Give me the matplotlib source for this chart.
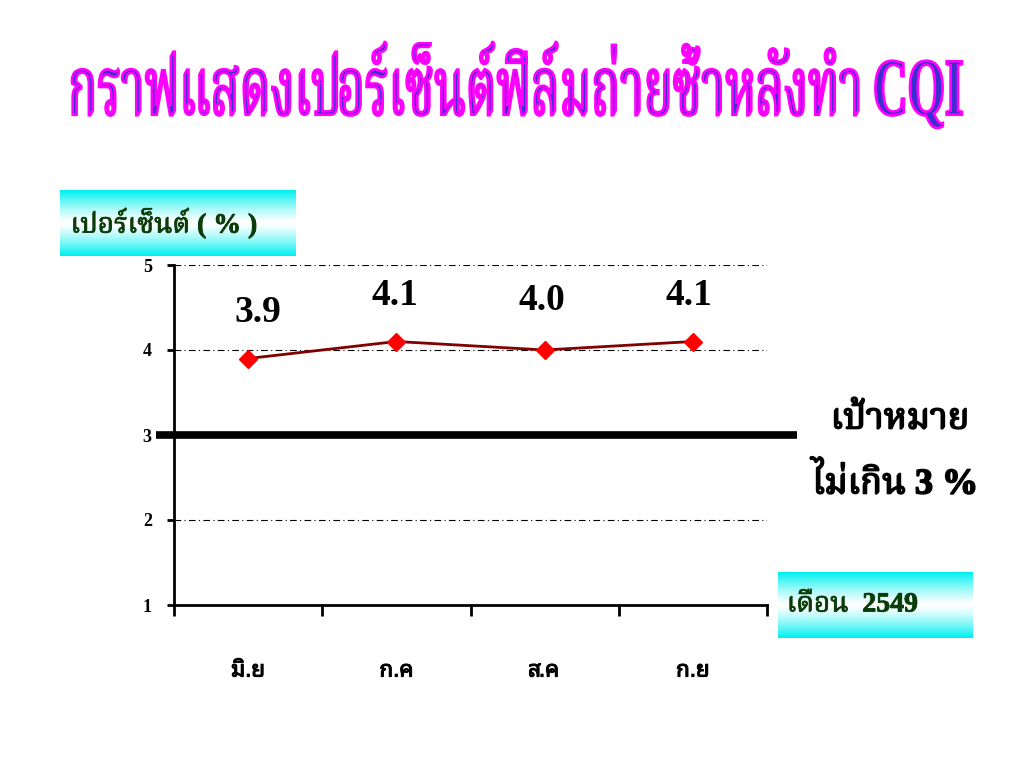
import matplotlib
matplotlib.use("Agg")
import numpy as np
import matplotlib.pyplot as plt
import matplotlib.patheffects as pe
from matplotlib.textpath import TextPath
from matplotlib.patches import PathPatch
from matplotlib.font_manager import FontProperties
from matplotlib.transforms import Affine2D

# data
months = ["มิ.ย", "ก.ค", "ส.ค", "ก.ย"]
percent = [3.9, 4.1, 4.0, 4.1]
value_labels = ["3.9", "4.1", "4.0", "4.1"]
target = 3
y_ticks = [1, 2, 3, 4, 5]
grid_levels = [2, 3, 4, 5]

title = "กราฟแสดงเปอร์เซ็นต์ฟิล์มถ่ายซ้ำหลังทำ CQI"
y_title = "เปอร์เซ็นต์ ( % )"
x_title = "เดือน  2549"
goal_1 = "เป้าหมาย"
goal_2 = "ไม่เกิน 3 %"

SERIF = ['Liberation Serif', 'Noto Serif Thai']
SANS = ['Liberation Sans', 'Noto Sans Thai Looped']

W, H = 1024, 768
fig = plt.figure(figsize=(W / 100, H / 100), dpi=100)


def fx(px):
    return px / W


def fy(py):
    return 1 - py / H


def fat(color, lw=1.0):
    # the Thai serif has no bold file, so thicken it with a stroke
    return [pe.withStroke(linewidth=lw, foreground=color)]


def fit_text(s, x0, y0, x1, y1, fp, face, edge=None, lw=0):
    # squeeze a text path into a pixel box (the slide font is narrow)
    path = TextPath((0, 0), s, size=50, prop=fp)
    bb = path.get_extents()
    sx = (fx(x1) - fx(x0)) / bb.width
    sy = (fy(y0) - fy(y1)) / bb.height
    tr = Affine2D().translate(-bb.x0, -bb.y0).scale(sx, sy).translate(fx(x0), fy(y1))
    patch = PathPatch(path, facecolor=face, edgecolor=edge if edge else face,
                      linewidth=lw, transform=tr + fig.transFigure)
    fig.add_artist(patch)
    return patch


# title
fit_text(title, 72, 42, 962, 128, FontProperties(family=SERIF, weight='bold'),
         '#3b2fd0', '#ff00ff', 1.9)

# cyan gradient boxes
grad = np.linspace(-1, 1, 64)
grad = np.abs(grad)[:, None] ** 1.3
cmap = matplotlib.colors.LinearSegmentedColormap.from_list("cy", ["#ffffff", "#00f0f0"])


def label_box(x0, y0, x1, y1, s, size):
    bax = fig.add_axes([fx(x0), fy(y1), fx(x1) - fx(x0), fy(y0) - fy(y1)])
    bax.imshow(grad, cmap=cmap, aspect='auto', extent=[0, 1, 0, 1], vmin=0, vmax=1)
    bax.axis('off')
    bax.text(0.045, 0.5, s, fontsize=size, fontweight='bold', color='#0b3d0b',
             family=SERIF, va='center', ha='left', transform=bax.transAxes,
             path_effects=fat('#0b3d0b', 0.6))


label_box(60, 190, 296, 256, y_title, 20)
label_box(778, 572, 973, 638, x_title, 20)

# the chart itself
ax = fig.add_axes([fx(174), fy(605), fx(767) - fx(174), fy(265) - fy(605)])
x = np.arange(len(months)) + 0.5
ax.set_xlim(0, len(months))
ax.set_ylim(y_ticks[0], y_ticks[-1])

for g in grid_levels:
    ax.axhline(g, color='black', lw=0.8, ls=(0, (6, 3, 1, 3)), zorder=1)

ax.plot([-0.12, len(months) + 0.2], [target, target], color='black', lw=5.5,
        solid_capstyle='butt', clip_on=False, zorder=2)

ax.plot(x, percent, color='#800000', lw=2, marker='D', markersize=9,
        markerfacecolor='#ff0000', markeredgecolor='#ff0000', zorder=3)

offsets = [(7, 33), (-1, 33), (-2, 36), (-3, 33)]
for xi, yi, lab, off in zip(x, percent, value_labels, offsets):
    ax.annotate(lab, (xi, yi), xytext=off, textcoords='offset points',
                ha='center', va='center', fontsize=27, fontweight='bold',
                family=SERIF, color='black')

for side in ['top', 'right']:
    ax.spines[side].set_visible(False)
for side in ['left', 'bottom']:
    ax.spines[side].set_linewidth(2)

ax.set_yticks(y_ticks)
ax.set_yticklabels([str(t) for t in y_ticks], fontsize=13, fontweight='bold', family=SERIF)
ax.tick_params(axis='y', direction='out', length=5, width=2, pad=11)

ax.set_xticks(np.arange(len(months) + 1))
ax.set_xticklabels([])
ax.tick_params(axis='x', which='major', direction='out', length=8, width=2)
ax.set_xticks(x, minor=True)
ax.set_xticklabels(months, minor=True, fontsize=16, family=SANS)
for t in ax.get_xticklabels(minor=True):
    t.set_path_effects(fat('black', 0.8))
ax.tick_params(axis='x', which='minor', length=0, pad=40)

# goal note on the right
fig.text(fx(900), fy(420), goal_1, fontsize=26, fontweight='bold', family=SERIF,
         ha='center', va='center', path_effects=fat('black', 1.2))
fig.text(fx(895), fy(483), goal_2, fontsize=26, fontweight='bold', family=SERIF,
         ha='center', va='center', path_effects=fat('black', 1.2))

fig.savefig("out.png", dpi=100)
